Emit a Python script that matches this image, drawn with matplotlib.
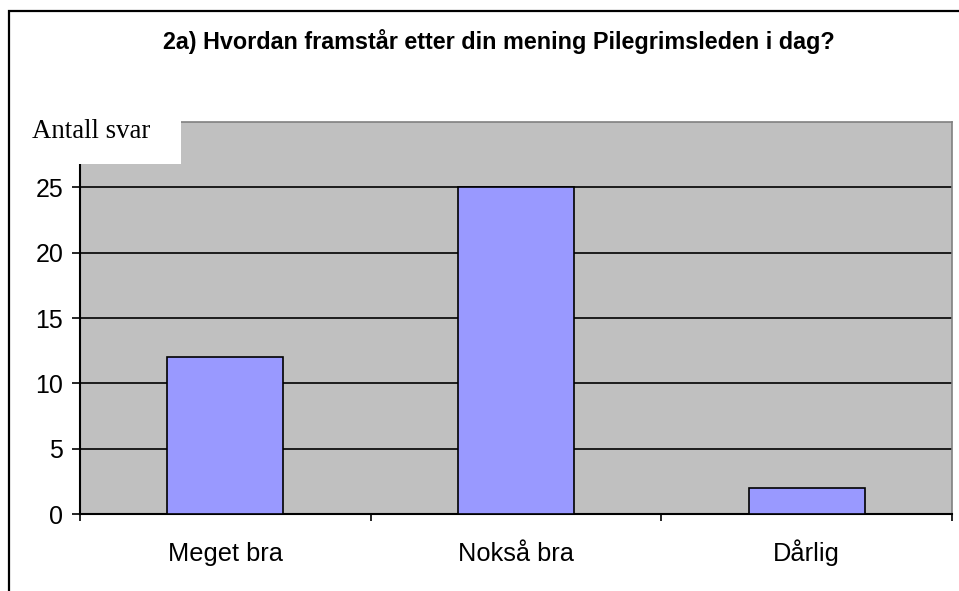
import matplotlib
matplotlib.use('Agg')
import matplotlib.pyplot as plt
from matplotlib.patches import Rectangle

#######################################################################
# Data

categories = ['Meget bra', 'Nokså bra', 'Dårlig']
answers = [12, 25, 2]
yticks = [0, 5, 10, 15, 20, 25]
title = '2a) Hvordan framstår etter din mening Pilegrimsleden i dag?'

#######################################################################
# Plotting

plt.rcParams['font.family'] = ['Liberation Sans', 'DejaVu Sans']

W, H = 959, 591
fig = plt.figure(figsize=(W / 100, H / 100), dpi=100)
ax = fig.add_axes([80 / W, 1 - 514 / H, (952 - 80) / W, (514 - 122) / H])

ax.set_facecolor('#C0C0C0')
x = range(len(categories))
ax.bar(x, answers, width=0.4, color='#9999FF', edgecolor='black',
       linewidth=1.2, zorder=3)

ax.set_xlim(-0.5, len(categories) - 0.5)
ax.set_ylim(0, 30)
ax.set_yticks(yticks)
for t in yticks[1:]:
    ax.axhline(t, color='black', linewidth=1.2, zorder=2)

# x ticks sit on category boundaries, labels in the middle
ax.set_xticks([i - 0.5 for i in range(len(categories) + 1)])
ax.set_xticklabels([])
ax.set_xticks(list(x), minor=True)
ax.set_xticklabels(categories, minor=True, fontsize=18.3)
for lbl in ax.get_xticklabels(minor=True):
    lbl.set_verticalalignment('baseline')
ax.tick_params(axis='x', which='major', direction='out', length=5,
               width=1.2, color='black')
ax.tick_params(axis='x', which='minor', length=0, pad=34)
ax.tick_params(axis='y', direction='out', length=6, width=1.2,
               labelsize=18, pad=6)

for side in ['left', 'bottom']:
    ax.spines[side].set_color('black')
    ax.spines[side].set_linewidth(1.5)
for side in ['top', 'right']:
    ax.spines[side].set_color('#808080')
    ax.spines[side].set_linewidth(1.2)

# white box with axis label covering upper-left corner
fig.patches.append(Rectangle((20 / W, 1 - 164 / H), (181 - 20) / W, 50 / H,
                             transform=fig.transFigure, facecolor='white',
                             edgecolor='none', zorder=10))
fig.text(32 / W, 1 - 131 / H, 'Antall svar', family='Liberation Serif',
         fontsize=19.3, va='center', ha='left', zorder=11)

fig.text(499 / W, 1 - 42 / H, title, fontsize=16.8, fontweight='bold',
         ha='center', va='center')

# outer frame
fig.patches.append(Rectangle((8.5 / W, -0.1), 1.2, 0.1 + 1 - 11 / H,
                             transform=fig.transFigure, facecolor='none',
                             edgecolor='black', linewidth=1.6, zorder=12))

fig.savefig('out.png', dpi=100)
